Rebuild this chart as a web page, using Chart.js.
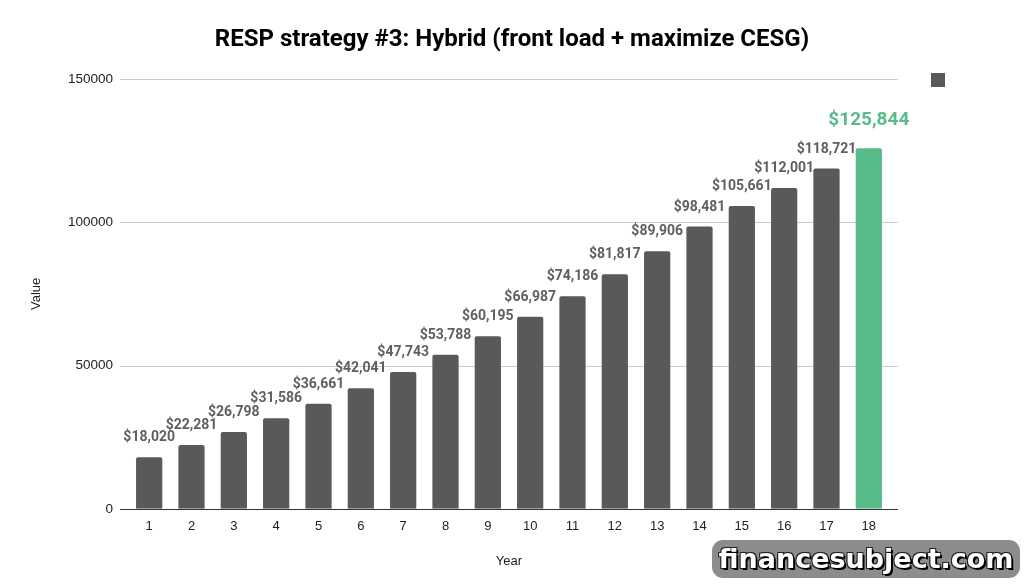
<!DOCTYPE html>
<html>
<head>
<meta charset="utf-8">
<script src="https://cdn.jsdelivr.net/npm/chart.js@4"></script>
<style>
  html, body { margin: 0; padding: 0; background: #fff; }
  #wrap { position: relative; width: 1024px; height: 586px; }
  #badge {
    position: absolute; left: 712px; top: 540px; width: 308px; height: 38px;
    background: #8c8c8c; border-radius: 11px;
    font: bold 27px "DejaVu Sans", sans-serif; color: #fff; text-align: center; line-height: 38px;
    text-shadow: 2px 2px 0 #000, -1px -1px 0 #222, 1px -1px 0 #222, -1px 1px 0 #222;
  }
</style>
</head>
<body>
<div id="wrap">
  <canvas id="myChart" width="1024" height="586"></canvas>
  <div id="badge">financesubject.com</div>
</div>
<script>
// data
const years = ["1", "2", "3", "4", "5", "6", "7", "8", "9", "10", "11", "12", "13", "14", "15", "16", "17", "18"];
const balances = [18020, 22281, 26798, 31586, 36661, 42041, 47743, 53788, 60195, 66987,
                  74186, 81817, 89906, 98481, 105661, 112001, 118721, 125844];
const yTicks = [0, 50000, 100000, 150000];
const chartTitle = 'RESP strategy #3: Hybrid (front load + maximize CESG)';

const grey = '#595959';
const green = '#57bb8a';
const barColors = balances.map((v, i) => i === balances.length - 1 ? green : grey);

// gridlines drawn a bit wider than the plot, like the original
const gridPlugin = {
    id: 'grid',
    beforeDatasetsDraw(chart) {
        const { ctx, chartArea, scales } = chart;
        ctx.save();
        yTicks.forEach(t => {
            const y = Math.round(scales.y.getPixelForValue(t)) + 0.5;
            ctx.strokeStyle = t === 0 ? '#333333' : '#cccccc';
            ctx.lineWidth = 1;
            ctx.beginPath();
            ctx.moveTo(chartArea.left - 8, y);
            ctx.lineTo(chartArea.right + 8, y);
            ctx.stroke();
        });
        ctx.restore();
    }
};

// title centred on the whole canvas, value labels above bars, legend square
const labelPlugin = {
    id: 'labels',
    afterDatasetsDraw(chart) {
        const { ctx, chartArea, width } = chart;
        const meta = chart.getDatasetMeta(0);
        ctx.save();
        ctx.textAlign = 'center';
        ctx.textBaseline = 'middle';
        ctx.fillStyle = '#000';
        ctx.font = 'bold 24px Roboto';
        ctx.fillText(chartTitle, width / 2, 40);

        ctx.textBaseline = 'alphabetic';
        meta.data.forEach((bar, i) => {
            const txt = '$' + balances[i].toLocaleString('en-US');
            if (i === balances.length - 1) {
                ctx.fillStyle = green;
                ctx.font = 'bold 19px Roboto';
                ctx.fillText(txt, bar.x, bar.y - 23);
            } else {
                ctx.fillStyle = '#5f5f5f';
                ctx.font = 'bold 14px Roboto';
                ctx.fillText(txt, bar.x, bar.y - 16);
            }
        });
        ctx.fillStyle = grey;
        ctx.fillRect(chartArea.right + 41, 73, 14, 14);
        ctx.restore();
    }
};

const ctx = document.getElementById('myChart');
const myChart = new Chart(ctx, {
    type: 'bar',
    data: {
        labels: years,
        datasets: [{
            data: balances,
            backgroundColor: barColors,
            borderRadius: 2,
            borderSkipped: 'bottom',
            categoryPercentage: 0.62,
            barPercentage: 1
        }]
    },
    options: {
        responsive: false,
        animation: false,
        layout: { padding: { left: 29, right: 134, top: 79, bottom: 13 } },
        plugins: {
            legend: { display: false },
            tooltip: { enabled: false },
            title: { display: false }
        },
        scales: {
            x: {
                grid: { display: false, drawTicks: false },
                border: { display: false },
                ticks: { color: '#222', font: { family: 'Liberation Sans', size: 13 }, padding: 10 },
                title: { display: true, text: 'Year', color: '#222', font: { family: 'Liberation Sans', size: 13 }, padding: { top: 9 } }
            },
            y: {
                min: 0,
                max: 150000,
                afterFit(scale) { scale.width = 99; },
                afterBuildTicks(scale) { scale.ticks = yTicks.map(v => ({ value: v })); },
                grid: { display: false, drawTicks: false },
                border: { display: false },
                ticks: { color: '#222', font: { family: 'Liberation Sans', size: 13.5 }, padding: 15, callback: v => String(v) },
                title: { display: true, text: 'Value', color: '#222', font: { family: 'Liberation Sans', size: 13 }, padding: 0 }
            }
        }
    },
    plugins: [gridPlugin, labelPlugin]
});
</script>
</body>
</html>
